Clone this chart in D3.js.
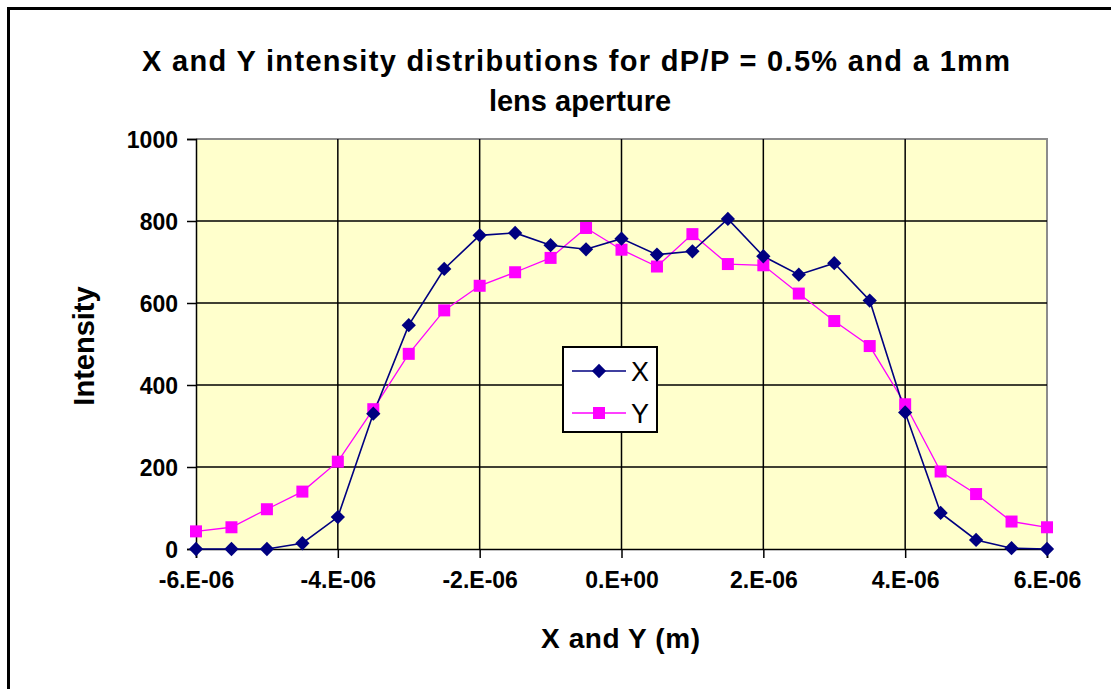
<!DOCTYPE html>
<html><head><meta charset="utf-8">
<script src="https://cdn.jsdelivr.net/npm/d3@7/dist/d3.min.js"></script>
<style>body{margin:0;background:#fff;} svg{display:block;font-family:"Liberation Sans",Arial,sans-serif;}</style>
</head><body>
<svg id="c" width="1111" height="689"></svg>
<script>
const xValues = [-6e-6,-5.5e-6,-5e-6,-4.5e-6,-4e-6,-3.5e-6,-3e-6,-2.5e-6,-2e-6,-1.5e-6,-1e-6,-0.5e-6,0,0.5e-6,1e-6,1.5e-6,2e-6,2.5e-6,3e-6,3.5e-6,4e-6,4.5e-6,5e-6,5.5e-6,6e-6];
const seriesX = [0,0,0,14,78,330,546,683,765,771,741,731,757,718,726,805,714,669,697,606,333,88,22,2,0];
const seriesY = [43,53,97,140,213,341,476,582,642,675,710,783,730,689,768,695,692,623,556,495,353,189,134,67,53];
const xTicks = [-6e-6,-4e-6,-2e-6,0,2e-6,4e-6,6e-6];
const xTickLabels = ["-6.E-06","-4.E-06","-2.E-06","0.E+00","2.E-06","4.E-06","6.E-06"];
const yTicks = [0,200,400,600,800,1000];
const titleLines = ["X and Y intensity distributions for dP/P = 0.5% and a 1mm","lens aperture"];
const xTitle = "X and Y (m)";
const yTitle = "Intensity";
const seriesNames = ["X","Y"];

const svg = d3.select("#c");
const L=196,R=1047,T=139,B=549;
const x = d3.scaleLinear().domain([-6e-6,6e-6]).range([L,R]);
const y = d3.scaleLinear().domain([0,1000]).range([B,T]);

// outer frame
svg.append("path").attr("d","M8.5,700 V8.5 H1120").attr("fill","none").attr("stroke","#000").attr("stroke-width",3);

// title
svg.append("text").attr("x",576).attr("y",71).attr("text-anchor","middle").attr("font-weight","bold").attr("font-size",29)
  .attr("textLength",868).attr("lengthAdjust","spacing").text(titleLines[0]);
svg.append("text").attr("x",580).attr("y",111).attr("text-anchor","middle").attr("font-weight","bold").attr("font-size",29)
  .text(titleLines[1]);

// plot bg
svg.append("rect").attr("x",L).attr("y",T).attr("width",R-L).attr("height",B-T).attr("fill","#FFFFCC");
// gray border top/right
svg.append("path").attr("d",`M${L},${T} H${R} V${B}`).attr("fill","none").attr("stroke","#8c8c8c").attr("stroke-width",2);

// gridlines
svg.append("g").selectAll("line").data(yTicks.slice(1,-1)).join("line")
  .attr("x1",L).attr("x2",R).attr("y1",d=>y(d)).attr("y2",d=>y(d)).attr("stroke","#000").attr("stroke-width",1.5);
svg.append("g").selectAll("line").data(xTicks.slice(1,-1)).join("line")
  .attr("y1",T).attr("y2",B).attr("x1",d=>x(d)).attr("x2",d=>x(d)).attr("stroke","#000").attr("stroke-width",1.5);

// axes
const yAxis = d3.axisLeft(y).tickValues(yTicks).tickSize(9).tickFormat(d3.format("d"));
const gy = svg.append("g").attr("transform",`translate(${L},0)`).call(yAxis);
const xAxis = d3.axisBottom(x).tickValues(xTicks).tickSize(9).tickFormat((d,i)=>xTickLabels[i]);
const gx = svg.append("g").attr("transform",`translate(0,${B})`).call(xAxis);
[gx,gy].forEach(g=>{
  g.selectAll("path.domain").attr("stroke","#000").attr("stroke-width",1.5);
  g.selectAll(".tick line").attr("stroke","#000").attr("stroke-width",1.5);
  g.selectAll("text").attr("font-family","Liberation Sans, Arial, sans-serif").attr("font-weight","bold").attr("font-size",23).attr("fill","#000");
});
gy.selectAll("text").attr("x",-18).attr("dy","0.36em");
gx.selectAll("text").attr("y",23).attr("dy","0.71em");

// axis titles
svg.append("text").attr("x",620.5).attr("y",648).attr("text-anchor","middle").attr("font-weight","bold").attr("font-size",28)
  .attr("textLength",159).attr("lengthAdjust","spacing").text(xTitle);
svg.append("text").attr("transform","translate(94,346) rotate(-90)").attr("text-anchor","middle").attr("font-weight","bold").attr("font-size",29).text(yTitle);

// series
const line = d3.line().x((d,i)=>x(xValues[i])).y(d=>y(d));
svg.append("path").datum(seriesY).attr("d",line).attr("fill","none").attr("stroke","#FF00FF").attr("stroke-width",1.3);
svg.append("path").datum(seriesX).attr("d",line).attr("fill","none").attr("stroke","#000080").attr("stroke-width",1.6);
svg.append("g").selectAll("rect").data(seriesY).join("rect")
  .attr("x",(d,i)=>x(xValues[i])-6).attr("y",d=>y(d)-6).attr("width",12).attr("height",12).attr("fill","#FF00FF");
const diamond = d3.symbol().type(d3.symbolDiamond2).size(130);
svg.append("g").selectAll("path").data(seriesX).join("path")
  .attr("transform",(d,i)=>`translate(${x(xValues[i])},${y(d)})`).attr("d",diamond).attr("fill","#000080");

// legend
const lg = svg.append("g");
lg.append("rect").attr("x",563).attr("y",347).attr("width",94).attr("height",85).attr("fill","#fff").attr("stroke","#000").attr("stroke-width",2);
const rows=[{n:seriesNames[0],c:"#000080",yy:371,m:"d"},{n:seriesNames[1],c:"#FF00FF",yy:413,m:"s"}];
rows.forEach(r=>{
  lg.append("line").attr("x1",572).attr("x2",626).attr("y1",r.yy).attr("y2",r.yy).attr("stroke",r.c).attr("stroke-width",1.5);
  if(r.m==="d") lg.append("path").attr("transform",`translate(599,${r.yy})`).attr("d",diamond).attr("fill",r.c);
  else lg.append("rect").attr("x",593).attr("y",r.yy-6).attr("width",12).attr("height",12).attr("fill",r.c);
  lg.append("text").attr("x",631).attr("y",r.yy+10).attr("font-size",27).attr("fill","#000").text(r.n);
});
</script>
</body></html>
